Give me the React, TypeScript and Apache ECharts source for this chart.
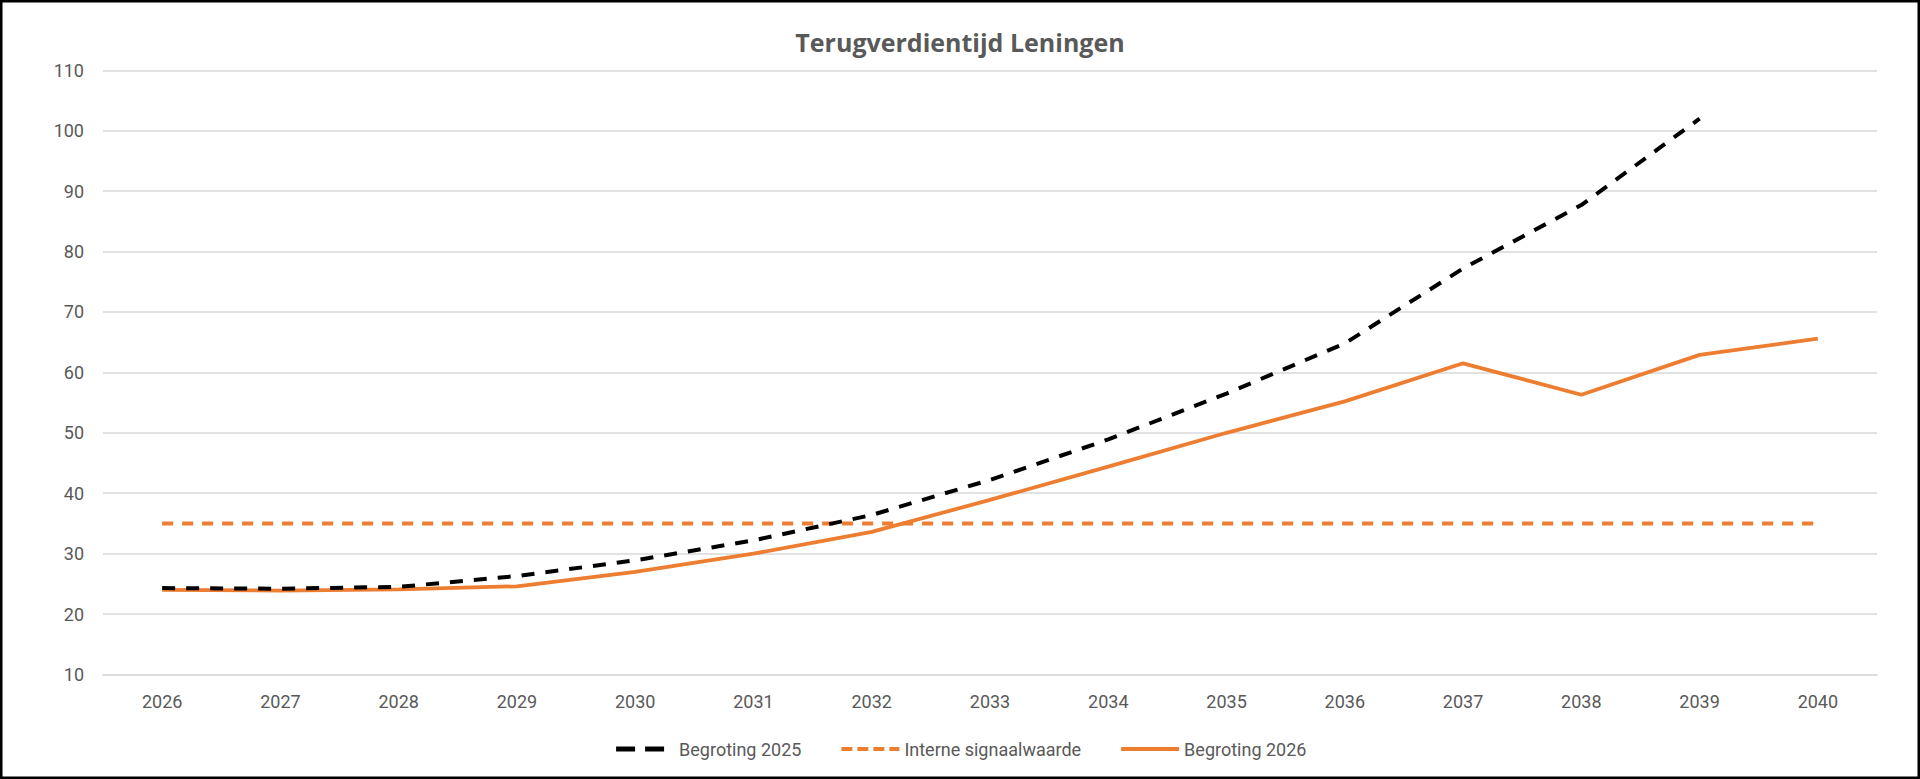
import { useEffect, useRef } from "react";
import * as echarts from "echarts";
import type { ECharts, EChartsOption } from "echarts";

const years = [
    "2026", "2027", "2028", "2029", "2030", "2031", "2032", "2033",
    "2034", "2035", "2036", "2037", "2038", "2039", "2040",
];

// Begroting 2025 stopt bij 2039
const begroting2025 = [
    24.3, 24.2, 24.5, 26.3, 28.9, 32.2, 36.4, 42.2, 48.9, 56.5, 64.8, 77.2, 87.7, 102.0, null,
];

const signaalwaarde = [35, 35, 35, 35, 35, 35, 35, 35, 35, 35, 35, 35, 35, 35, 35];

const begroting2026 = [
    24.0, 23.9, 24.1, 24.6, 27.0, 30.0, 33.6, 38.9, 44.4, 50.0, 55.2, 61.5, 56.3, 62.9, 65.6,
];

const yTicks = { min: 10, max: 110, interval: 10 };

const ORANGE = "#ED7D31";
const TEXT = "#595959";
const GRID = "#D9D9D9";
const FONT = "Roboto, 'Noto Sans', sans-serif";

export default function App() {
    const chartRef = useRef<HTMLDivElement | null>(null);
    const chartInstance = useRef<ECharts | null>(null);

    useEffect(() => {
        document.body.style.margin = "0";
        if (!chartRef.current) return;

        const chart = echarts.init(chartRef.current, undefined, { renderer: "svg" });
        chartInstance.current = chart;

        const option: EChartsOption = {
            animation: false,
            backgroundColor: "#ffffff",

            title: {
                text: "Terugverdientijd Leningen",
                left: "center",
                top: 24,
                textStyle: {
                    fontFamily: "'Open Sans', sans-serif",
                    fontSize: 25,
                    fontWeight: "bold",
                    color: TEXT,
                },
            },

            graphic: [
                {
                    type: "rect",
                    shape: { x: 1.25, y: 1.25, width: 1917.5, height: 776.5 },
                    style: { fill: "none", stroke: "#000", lineWidth: 2.5 },
                    silent: true,
                    z: 100,
                },
            ],

            legend: {
                left: "center",
                top: 735,
                itemWidth: 58,
                itemHeight: 14,
                itemGap: 38,
                // geen cirkel in de legenda, alleen de lijn
                itemStyle: { opacity: 0 },
                textStyle: { color: TEXT, fontSize: 18, fontFamily: FONT },
                data: [
                    { name: "Begroting 2025", lineStyle: { type: [19, 10], width: 5 } },
                    { name: "Interne signaalwaarde", lineStyle: { type: [11, 5], width: 4 } },
                    { name: "Begroting 2026", lineStyle: { width: 4 } },
                ],
            },

            grid: {
                left: 103,
                right: 43,
                top: 70.3,
                bottom: 104.5,
                containLabel: false,
            },

            xAxis: {
                type: "category",
                data: years,
                boundaryGap: true,
                axisLine: { show: true, lineStyle: { color: GRID, width: 1.5 } },
                axisTick: { show: false },
                axisLabel: {
                    color: TEXT,
                    fontSize: 18,
                    fontFamily: FONT,
                    margin: 18,
                    interval: 0,
                },
                splitLine: { show: false },
            },

            yAxis: {
                type: "value",
                min: yTicks.min,
                max: yTicks.max,
                interval: yTicks.interval,
                axisLine: { show: false },
                axisTick: { show: false },
                axisLabel: {
                    color: TEXT,
                    fontSize: 18,
                    fontFamily: FONT,
                    margin: 19,
                },
                splitLine: { lineStyle: { color: GRID, width: 1.5 } },
            },

            series: [
                {
                    name: "Begroting 2025",
                    type: "line",
                    data: begroting2025,
                    symbol: "none",
                    z: 4,
                    connectNulls: false,
                    itemStyle: { color: "#000" },
                    lineStyle: { color: "#000", width: 4, type: [13, 11] },
                },
                {
                    name: "Interne signaalwaarde",
                    type: "line",
                    data: signaalwaarde,
                    symbol: "none",
                    z: 2,
                    itemStyle: { color: ORANGE },
                    lineStyle: { color: ORANGE, width: 4, type: [11, 9] },
                },
                {
                    name: "Begroting 2026",
                    type: "line",
                    data: begroting2026,
                    symbol: "none",
                    z: 3,
                    itemStyle: { color: ORANGE },
                    lineStyle: { color: ORANGE, width: 3.75 },
                },
            ],
        };

        chart.setOption(option, { notMerge: true });

        const onResize = () => chart.resize();
        window.addEventListener("resize", onResize);

        return () => {
            window.removeEventListener("resize", onResize);
            chart.dispose();
            chartInstance.current = null;
        };
    }, []);

    return <div ref={chartRef} style={{ width: "100vw", height: "100vh" }} />;
}
